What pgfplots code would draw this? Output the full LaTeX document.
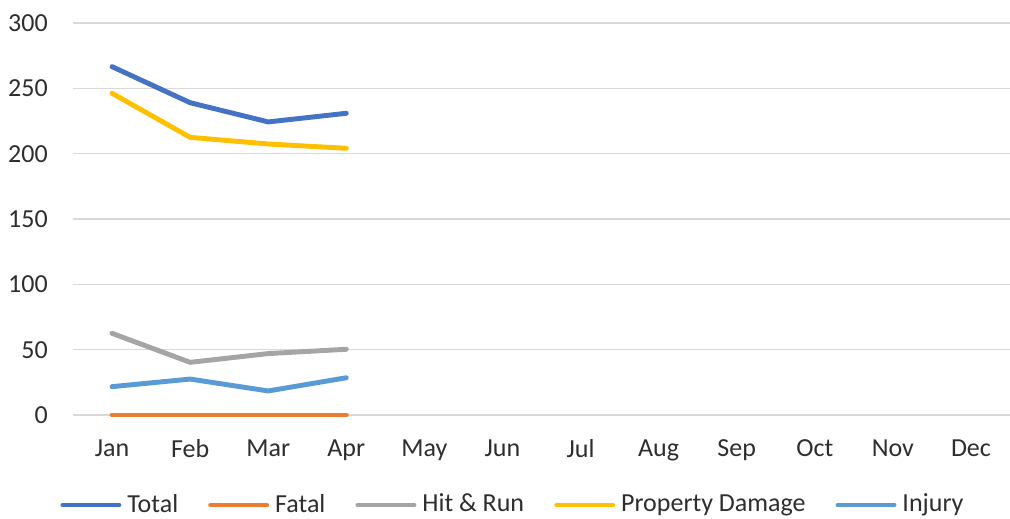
\documentclass[border=0pt]{standalone}
\usepackage{pgfplots}
\pgfplotsset{compat=1.18}
\usepackage{fontspec}
\setmainfont{Carlito}
\definecolor{cTotal}{HTML}{4472C4}
\definecolor{cFatal}{HTML}{ED7D31}
\definecolor{cHit}{HTML}{A5A5A5}
\definecolor{cProp}{HTML}{FFC000}
\definecolor{cInj}{HTML}{5B9BD5}
\definecolor{gridc}{HTML}{D9D9D9}
\definecolor{textc}{HTML}{2E2E2E}
\begin{document}
\fontsize{19.5pt}{23pt}\selectfont
\begin{tikzpicture}
\begin{axis}[
  at={(0,0)}, anchor=south west,
  scale only axis, width=702.75pt, height=294pt,
  xmin=-0.5, xmax=11.5, ymin=0, ymax=300,
  xtick={0,...,11},
  xticklabels={Jan,Feb,Mar,Apr,May,Jun,Jul,Aug,Sep,Oct,Nov,Dec},
  ytick={0,50,...,300},
  ymajorgrids, grid style={draw=gridc, line width=1pt},
  axis line style={draw=none},
  major tick length=0pt,
  clip=false,
  /pgf/number format/assume math mode=true,
  tick label style={font=\fontsize{19.5pt}{23pt}\selectfont, text=textc},
  yticklabel style={anchor=east, inner sep=0pt, xshift=-18.75pt},
  xticklabel style={anchor=north, inner sep=0pt, yshift=-18.5pt},
  legend columns=5,
  legend style={at={(0.4685,0)}, anchor=center, yshift=-67.5pt,
    draw=none, fill=none, font=\fontsize{19.5pt}{23pt}\selectfont, text=textc,
    nodes={inner sep=0pt},
    /tikz/every odd column/.append style={column sep=4.5pt},
    /tikz/every even column/.append style={column sep=22.5pt}},
  legend image code/.code={\draw[#1, line cap=round] (0pt,0pt) -- (42pt,0pt);},
  every axis plot/.append style={line width=3.7pt, line join=round, line cap=round, mark=none},
]
\addplot[cTotal] coordinates {(0,266.6) (1,239.0) (2,224.3) (3,230.9)};
\addlegendentry{Total}
\addplot[cFatal] coordinates {(0,0) (1,0) (2,0) (3,0)};
\addlegendentry{Fatal}
\addplot[cHit] coordinates {(0,62.5) (1,40.3) (2,47.0) (3,50.3)};
\addlegendentry{Hit \& Run}
\addplot[cProp] coordinates {(0,246.2) (1,212.5) (2,207.4) (3,204.1)};
\addlegendentry{Property Damage}
\addplot[cInj] coordinates {(0,21.7) (1,27.5) (2,18.4) (3,28.5)};
\addlegendentry{Injury}
\end{axis}
\pgfresetboundingbox
\path[use as bounding box] (-54.75pt,-77.25pt) rectangle (702.75pt,311.25pt);
\end{tikzpicture}
\end{document}
